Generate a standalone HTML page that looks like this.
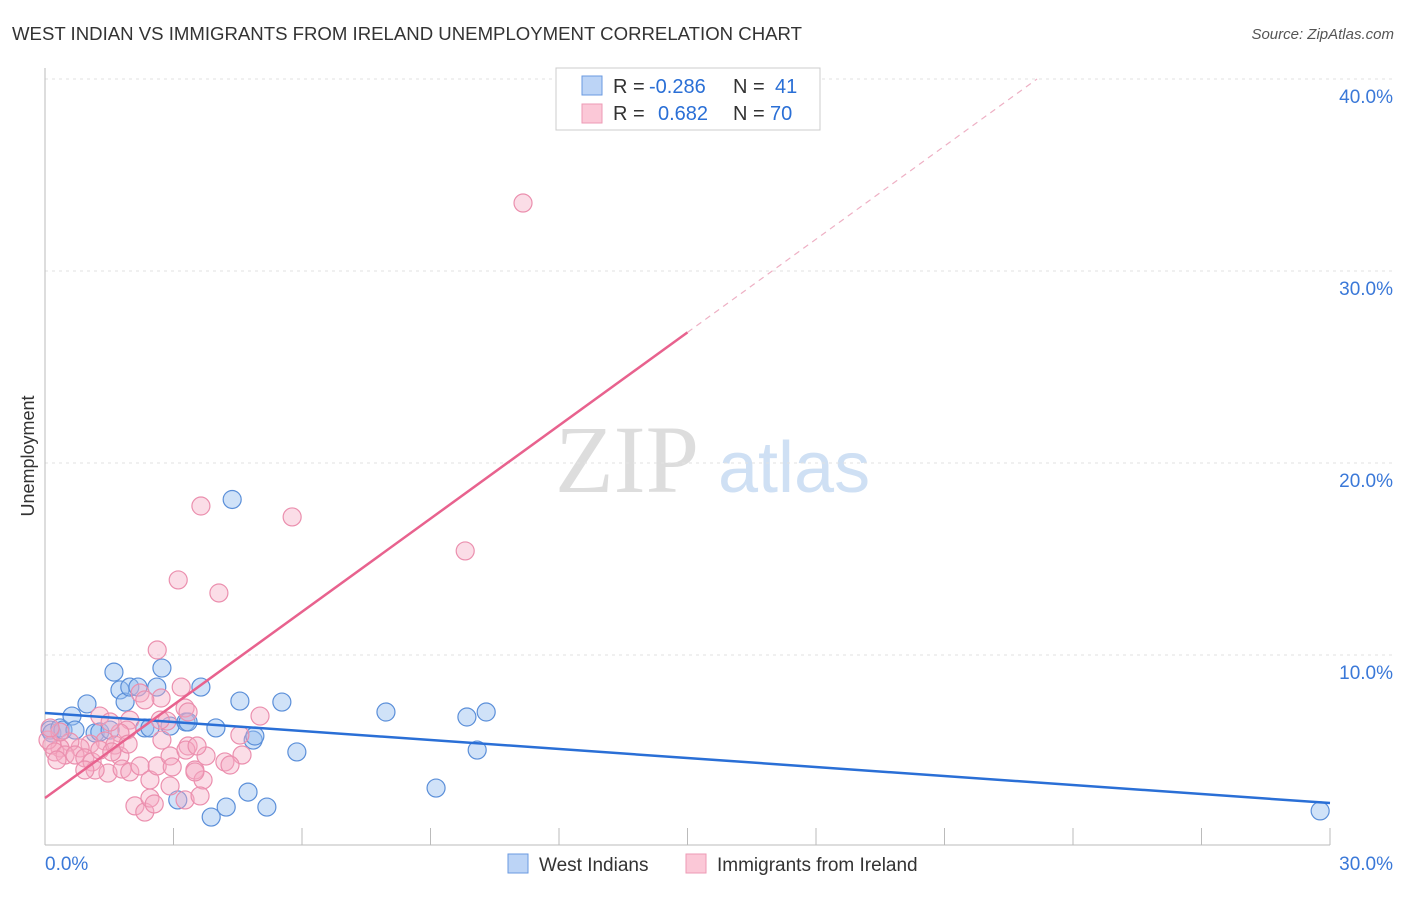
<!DOCTYPE html>
<html><head><meta charset="utf-8"><style>
body{margin:0;background:#fff;font-family:"Liberation Sans",sans-serif;}
</style></head><body>
<svg width="1406" height="892" xmlns="http://www.w3.org/2000/svg" id="svg">
<text x="12" y="40" font-size="18.6" fill="#333">WEST INDIAN VS IMMIGRANTS FROM IRELAND UNEMPLOYMENT CORRELATION CHART</text>
<text x="1394" y="39" font-size="15" fill="#555" font-style="italic" text-anchor="end">Source: ZipAtlas.com</text>
<text x="34" y="456" font-size="18" fill="#333" text-anchor="middle" transform="rotate(-90 34 456)">Unemployment</text>
<g><text x="555" y="492" font-size="96" fill="#ddd" font-family="Liberation Serif,serif">ZIP</text><text x="718" y="492" font-size="72" fill="#cfe0f4">atlas</text></g>
<g id="grid"></g><g id="axes"></g><g id="marks"></g>
<g>
<rect x="556" y="68" width="264" height="62" fill="#fff" stroke="#ccc"/>
<rect x="582" y="76" width="20" height="19" fill="#bcd4f6" stroke="#6a9ae0"/>
<rect x="582" y="104" width="20" height="19" fill="#fbc8d7" stroke="#ee9ab4"/>
<text x="613" y="93" font-size="20" fill="#333">R =</text>
<text x="649" y="93" font-size="20" fill="#2a6fd6">-0.286</text>
<text x="733" y="93" font-size="20" fill="#333">N =</text>
<text x="775" y="93" font-size="20" fill="#2a6fd6">41</text>
<text x="613" y="120" font-size="20" fill="#333">R =</text>
<text x="658" y="120" font-size="20" fill="#2a6fd6">0.682</text>
<text x="733" y="120" font-size="20" fill="#333">N =</text>
<text x="770" y="120" font-size="20" fill="#2a6fd6">70</text>
</g>
<g>
<rect x="508" y="854" width="20" height="19" fill="#bcd4f6" stroke="#6a9ae0"/>
<text x="539" y="871" font-size="19" fill="#333">West Indians</text>
<rect x="686" y="854" width="20" height="19" fill="#fbc8d7" stroke="#ee9ab4"/>
<text x="717" y="871" font-size="19" fill="#333">Immigrants from Ireland</text>
</g>
</svg>
<script>
const yTicks=[10,20,30,40];
const yTickLabels=["10.0%","20.0%","30.0%","40.0%"];
const xTickLabels=["0.0%","30.0%"];
const blueX=[0.12,0.16,0.35,0.42,0.63,0.98,1.17,1.28,1.61,1.75,1.87,1.98,2.17,2.33,2.45,2.61,2.73,2.92,3.1,3.29,3.64,3.88,3.99,4.23,4.37,4.55,4.74,4.86,4.9,5.18,5.53,5.88,7.96,9.13,9.85,10.09,10.3,29.77,0.7,1.52,3.34];
const blueY=[6.09,5.94,6.2,6.09,6.82,7.45,5.94,5.99,9.11,8.18,7.55,8.33,8.33,6.2,6.2,8.33,9.32,6.3,2.45,6.51,8.33,1.56,6.2,2.08,18.1,7.6,2.86,5.57,5.78,2.08,7.55,4.95,7.03,3.07,6.77,5.05,7.03,1.88,6.09,6.09,6.51];
const pinkX=[11.16,3.64,5.77,9.81,3.11,4.06,2.62,3.18,2.22,3.27,2.71,5.02,1.98,2.85,1.28,1.91,1.75,1.52,1.4,1.05,0.82,0.58,0.35,0.16,0.07,0.23,0.47,0.7,0.93,1.1,1.28,1.63,1.75,1.47,1.8,1.98,2.22,2.45,2.62,2.92,2.97,3.34,3.29,3.5,3.69,3.76,4.2,4.55,4.6,2.1,2.33,2.45,2.55,3.27,3.5,3.62,4.32,0.35,0.12,0.28,1.17,1.56,1.94,2.69,3.34,3.55,2.73,2.33,0.93,2.92];
const pinkY=[33.54,17.76,17.19,15.42,13.91,13.23,10.26,8.33,8.02,7.24,7.76,6.82,6.61,6.56,6.82,6.09,5.94,6.51,5.52,5.36,5.16,5.47,5.16,5.31,5.57,4.95,4.79,4.79,4.64,4.43,5.05,5.31,4.74,3.85,4.06,3.91,4.22,3.49,4.22,4.74,4.17,5.26,5.05,4.01,3.49,4.74,4.43,5.83,4.79,2.14,1.82,2.55,2.24,2.45,3.91,2.66,4.27,5.99,6.2,4.53,4.01,4.95,5.36,6.61,7.03,5.26,5.57,7.66,4.01,3.18];
const blueLine=[6.98,2.29]; // y at x=0 and x=30
const pinkLine=[2.55,1.617]; // intercept, slope
const X=v=>45+v/30*1285, Y=v=>847-v*19.2;
const NS="http://www.w3.org/2000/svg";
function mk(t,a,p){const e=document.createElementNS(NS,t);for(const k in a)e.setAttribute(k,a[k]);p.appendChild(e);return e;}
const grid=document.getElementById('grid'),axes=document.getElementById('axes'),marks=document.getElementById('marks');
yTicks.forEach((t,i)=>{
 const l=mk('line',{x1:45,x2:1393,y1:Y(t),y2:Y(t),stroke:'#e2e2e2','stroke-dasharray':'3,4'},grid);
 
 
 const tx=mk('text',{x:1393,y:Y(t)+24,'font-size':19,fill:'#3a78d8','text-anchor':'end'},axes);
 tx.textContent=yTickLabels[i];
 
 
});
mk('line',{x1:45,x2:45,y1:68,y2:845,stroke:'#bbb'},axes);
mk('line',{x1:45,x2:1330,y1:845,y2:845,stroke:'#bbb'},axes);
for(let i=0;i<=10;i++){const x=X(i*3);mk('line',{x1:x,x2:x,y1:828,y2:845,stroke:'#bbb'},axes);}
[[0,'start',45],[1,'end',1393]].forEach(([i,a,x])=>{
 const t=mk('text',{x:x,y:870,'font-size':19,fill:'#3a78d8','text-anchor':a},axes);
 t.textContent=xTickLabels[i];
 
 
});
blueX.forEach((v,i)=>{
 const c=mk('circle',{cx:X(v),cy:Y(blueY[i]),r:9,fill:'rgba(150,190,240,0.45)',stroke:'#5b8fd9','stroke-width':1.2},marks);
 
 
});
pinkX.forEach((v,i)=>{
 const c=mk('circle',{cx:X(v),cy:Y(pinkY[i]),r:9,fill:'rgba(245,170,195,0.4)',stroke:'#eb8fae','stroke-width':1.2},marks);
 
 
});
const bl=mk('line',{x1:X(0),y1:Y(blueLine[0]),x2:X(30),y2:Y(blueLine[1]),stroke:'#2a6fd6','stroke-width':2.5},marks);


const pl=mk('line',{x1:X(0),y1:Y(pinkLine[0]),x2:X(15),y2:Y(pinkLine[0]+pinkLine[1]*15),stroke:'#e8628e','stroke-width':2.5},marks);


const xe=(40-pinkLine[0])/pinkLine[1];
const pd=mk('line',{x1:X(15),y1:Y(pinkLine[0]+pinkLine[1]*15),x2:X(xe),y2:Y(40),stroke:'#eeb0c4','stroke-width':1.2,'stroke-dasharray':'6,5'},marks);


</script>
</body></html>
